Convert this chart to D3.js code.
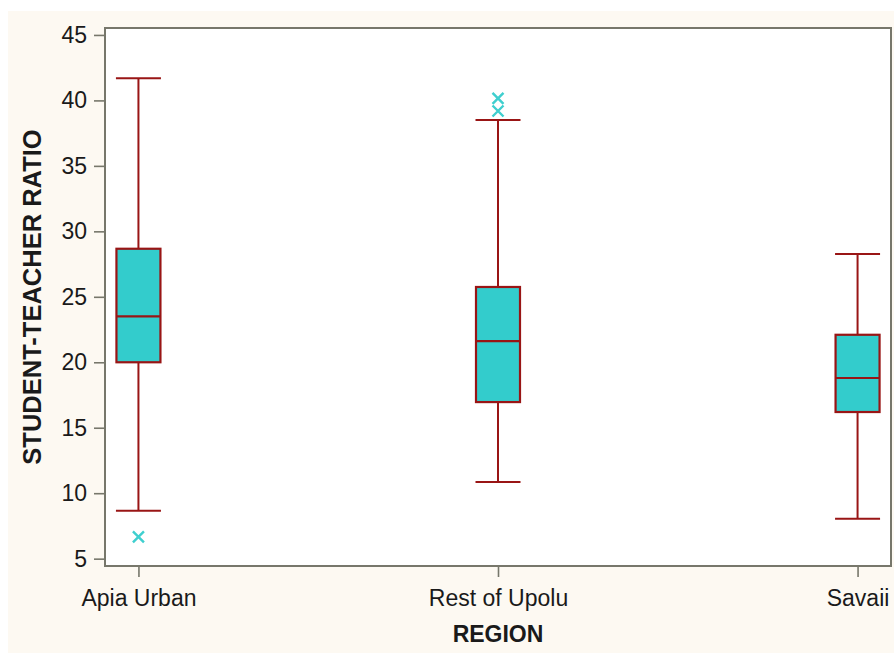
<!DOCTYPE html>
<html>
<head>
<meta charset="utf-8">
<script src="https://cdn.jsdelivr.net/npm/d3@7"></script>
<style>
  html, body { margin: 0; padding: 0; background: #ffffff; }
  svg { display: block; }
</style>
</head>
<body>
<svg id="chart" width="894" height="653"></svg>
<script>
// Student-teacher ratio by region: five-number summaries plus outliers
const regions   = ["Apia Urban", "Rest of Upolu", "Savaii"];
const whiskerLo = [8.66, 10.85, 8.05];
const q1        = [20.0, 16.96, 16.2];
const median    = [23.51, 21.62, 18.8];
const q3        = [28.67, 25.75, 22.1];
const whiskerHi = [41.7, 38.5, 28.27];
const outliers  = [[6.67], [39.19, 40.16], []];
const yTicks    = [5, 10, 15, 20, 25, 30, 35, 40, 45];

const svg = d3.select("#chart");
const W = 894, H = 653;
const plot = { left: 105, top: 28, right: 891, bottom: 566 };

const boxStroke = "#991515";
const boxFill = "#33cccc";
const axisColor = "#77776b";
const font = "'Liberation Sans', Arial, sans-serif";

// page background
svg.append("rect").attr("x", 8).attr("y", 11).attr("width", W - 8).attr("height", H - 11)
  .attr("fill", "#fdf9f2");
svg.append("rect").attr("x", plot.left).attr("y", plot.top)
  .attr("width", plot.right - plot.left).attr("height", plot.bottom - plot.top)
  .attr("fill", "#ffffff");

const x = d3.scalePoint().domain(regions).range([plot.left, plot.right]).padding(0.093);
const y = d3.scaleLinear().domain([4.44, 45.53]).range([plot.bottom, plot.top]);

// axes
const yAxis = svg.append("g").attr("transform", `translate(${plot.left},0)`)
  .call(d3.axisLeft(y).tickValues(yTicks).tickSize(11).tickPadding(7));
const xAxis = svg.append("g").attr("transform", `translate(0,${plot.bottom})`)
  .call(d3.axisBottom(x).tickSize(11).tickPadding(13));
[yAxis, xAxis].forEach(g => {
  g.select(".domain").remove();
  g.selectAll(".tick line").attr("stroke", axisColor).attr("stroke-width", 1.6);
  g.selectAll(".tick text").attr("fill", "#1a1a1a")
    .style("font-family", font).style("font-size", "23px");
});

// plot frame
svg.append("rect").attr("x", plot.left).attr("y", plot.top)
  .attr("width", plot.right - plot.left).attr("height", plot.bottom - plot.top)
  .attr("fill", "none").attr("stroke", axisColor).attr("stroke-width", 2);

// boxes
const boxW = 44, capW = 45;
const rows = regions.map((r, i) => ({
  r, lo: whiskerLo[i], q1: q1[i], med: median[i], q3: q3[i], hi: whiskerHi[i], out: outliers[i]
}));
const g = svg.append("g");
rows.forEach(d => {
  const cx = x(d.r);
  g.append("line").attr("x1", cx).attr("x2", cx).attr("y1", y(d.hi)).attr("y2", y(d.q3))
    .attr("stroke", boxStroke).attr("stroke-width", 2);
  g.append("line").attr("x1", cx).attr("x2", cx).attr("y1", y(d.q1)).attr("y2", y(d.lo))
    .attr("stroke", boxStroke).attr("stroke-width", 2);
  [d.hi, d.lo].forEach(v => {
    g.append("line").attr("x1", cx - capW / 2).attr("x2", cx + capW / 2)
      .attr("y1", y(v)).attr("y2", y(v)).attr("stroke", boxStroke).attr("stroke-width", 2);
  });
  g.append("rect").attr("x", cx - boxW / 2).attr("y", y(d.q3))
    .attr("width", boxW).attr("height", y(d.q1) - y(d.q3))
    .attr("fill", boxFill).attr("stroke", boxStroke).attr("stroke-width", 2.2);
  g.append("line").attr("x1", cx - boxW / 2).attr("x2", cx + boxW / 2)
    .attr("y1", y(d.med)).attr("y2", y(d.med)).attr("stroke", boxStroke).attr("stroke-width", 2.2);
  d.out.forEach(v => {
    const s = 5.5, yy = y(v);
    g.append("path")
      .attr("d", `M${cx - s},${yy - s}L${cx + s},${yy + s}M${cx - s},${yy + s}L${cx + s},${yy - s}`)
      .attr("stroke", "#3fcfcf").attr("stroke-width", 2.4).attr("fill", "none");
  });
});

// axis titles
svg.append("text").attr("x", (plot.left + plot.right) / 2).attr("y", 642)
  .attr("text-anchor", "middle").style("font-family", font).style("font-size", "23px")
  .style("font-weight", "bold").attr("fill", "#1a1a1a").text("REGION");
svg.append("text").attr("transform", `translate(41,${(plot.top + plot.bottom) / 2}) rotate(-90)`)
  .attr("text-anchor", "middle").style("font-family", font).style("font-size", "25.5px")
  .style("font-weight", "bold").attr("fill", "#1a1a1a").text("STUDENT-TEACHER RATIO");
</script>
</body>
</html>
